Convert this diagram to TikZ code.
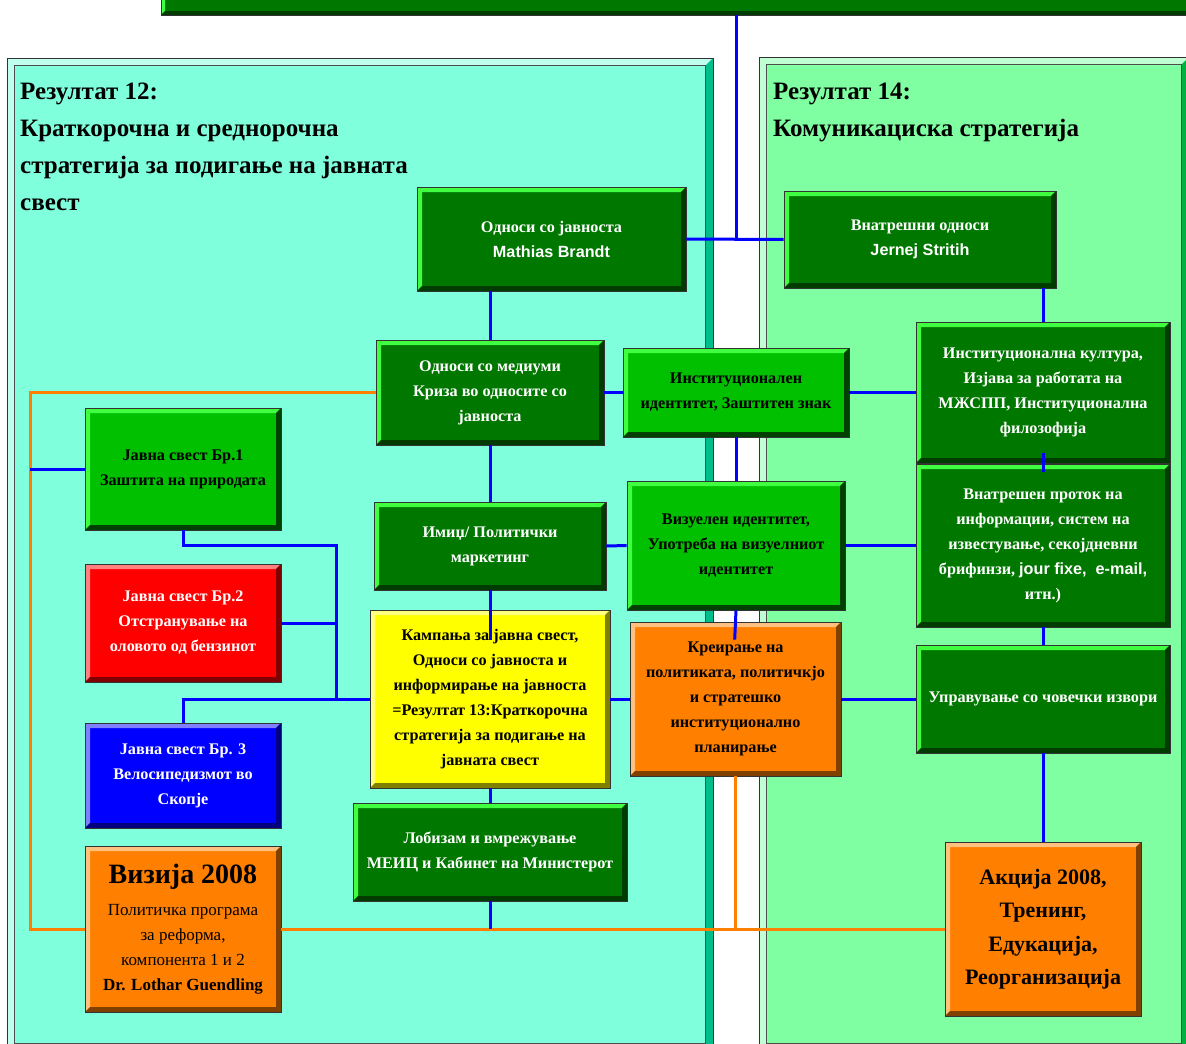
\documentclass[tikz,border=0pt]{standalone}
\usepackage{fontspec}
\setmainfont{Liberation Serif}
\newfontfamily\arialf{Liberation Sans}

\definecolor{dkgreen}{RGB}{0,120,0}
\definecolor{greenhi}{RGB}{64,255,64}
\definecolor{dkgreenlo}{RGB}{0,60,0}
\definecolor{mdgreen}{RGB}{0,192,0}
\definecolor{mdgreenlo}{RGB}{0,64,0}
\definecolor{boxred}{RGB}{255,0,0}
\definecolor{redhi}{RGB}{255,128,128}
\definecolor{redlo}{RGB}{128,0,0}
\definecolor{boxblue}{RGB}{0,0,255}
\definecolor{bluehi}{RGB}{128,128,255}
\definecolor{bluelo}{RGB}{0,0,128}
\definecolor{boxyellow}{RGB}{255,255,0}
\definecolor{yellowhi}{RGB}{255,255,128}
\definecolor{yellowlo}{RGB}{128,128,0}
\definecolor{boxorange}{RGB}{255,128,0}
\definecolor{orangehi}{RGB}{255,192,128}
\definecolor{orangelo}{RGB}{128,64,0}
\definecolor{aqua}{RGB}{128,255,220}
\definecolor{aquahi}{RGB}{190,255,238}
\definecolor{aqualo}{RGB}{0,190,140}
\definecolor{mint}{RGB}{128,255,162}
\definecolor{minthi}{RGB}{192,255,210}
\definecolor{mintlo}{RGB}{0,176,64}
\definecolor{linkblue}{RGB}{0,0,255}
\definecolor{linkorange}{RGB}{255,128,0}

\newcommand\boxfont{\fontsize{16.2}{25}\selectfont\bfseries}
\newcommand\titlefont{\fontsize{25}{37}\selectfont\bfseries}

\tikzset{
  bw/.store in=\bevw, bw=5pt,
  bevel/.style n args={3}{rectangle, inner sep=0pt, fill=#1, draw=black!80, line width=0.8pt,
    path picture={
      \coordinate (bvsw) at (path picture bounding box.south west);
      \coordinate (bvne) at (path picture bounding box.north east);
      \fill[#2] (bvsw) |- (bvne) -- ++(-\bevw,-\bevw) -| ([shift={(\bevw,\bevw)}]bvsw) -- cycle;
      \fill[#3] (bvsw) -| (bvne) -- ++(-\bevw,-\bevw) |- ([shift={(\bevw,\bevw)}]bvsw) -- cycle;
    }},
  dgbox/.style={bevel={dkgreen}{greenhi}{dkgreenlo}, text=white, align=center, font=\boxfont},
  mgbox/.style={bevel={mdgreen}{greenhi}{mdgreenlo}, text=black, align=center, font=\boxfont},
  redbox/.style={bevel={boxred}{redhi}{redlo}, text=white, align=center, font=\boxfont},
  bluebox/.style={bevel={boxblue}{bluehi}{bluelo}, text=white, align=center, font=\boxfont},
  yelbox/.style={bevel={boxyellow}{yellowhi}{yellowlo}, text=black, align=center, font=\boxfont},
  orbox/.style={bevel={boxorange}{orangehi}{orangelo}, text=black, align=center, font=\boxfont},
  link/.style={draw=linkblue, line width=3pt},
  olink/.style={draw=linkorange, line width=3pt},
}

\begin{document}
\begin{tikzpicture}[x=1pt,y=-1pt]
\useasboundingbox (0,0) rectangle (1186,1044);

% background panels
\node[bevel={dkgreen}{greenhi}{dkgreenlo}, bw=4pt, minimum width=1034pt, minimum height=40pt] (goal) at (678,-5) {};
\node[bevel={aqua}{aquahi}{aqualo}, bw=8pt, minimum width=706pt, minimum height=993pt] (left) at (360,554.5) {};
\node[bevel={mint}{minthi}{mintlo}, bw=8pt, minimum width=430pt, minimum height=994pt] (right) at (974,554) {};
\draw[black!70, line width=0.6pt] ([shift={(8pt,-8pt)}]left.north west) rectangle ([shift={(-8pt,8pt)}]left.south east);
\draw[black!70, line width=0.6pt] ([shift={(8pt,-8pt)}]right.north west) rectangle ([shift={(-8pt,8pt)}]right.south east);

\node[anchor=north west, align=left, font=\titlefont, inner sep=0pt] (res12) at (20,83)
  {Резултат 12:\\Краткорочна и среднорочна\\стратегија за подигање на јавната\\свест};
\node[anchor=north west, align=left, font=\titlefont, inner sep=0pt] (res14) at (773,83)
  {Резултат 14:\\Комуникациска стратегија};

% boxes
\node[dgbox, minimum width=269pt, minimum height=104pt] (pr) at (551.5,239) {Односи со јавноста\\{\arialf Mathias Brandt}};
\node[dgbox, minimum width=272pt, minimum height=97pt] (int) at (920,239.5) {Внатрешни односи\\{\arialf Jernej Stritih}};
\node[dgbox, minimum width=228pt, minimum height=105pt] (media) at (490,392.5) {Односи со медиуми\\Криза во односите со\\јавноста};
\node[mgbox, minimum width=226pt, minimum height=89pt] (instid) at (736,392.5) {Институционален\\идентитет, Заштитен знак};
\node[dgbox, minimum width=254pt, minimum height=141pt] (culture) at (1043,392.5) {Институционална култура,\\Изјава за работата на\\МЖСПП, Институционална\\филозофија};
\node[mgbox, minimum width=196pt, minimum height=122pt] (j1) at (183,469) {Јавна свест Бр.1\\Заштита на природата};
\node[dgbox, minimum width=232pt, minimum height=88pt] (image) at (490,546) {Имиџ/ Политички\\маркетинг};
\node[mgbox, minimum width=218pt, minimum height=129pt] (visual) at (736,545.5) {Визуелен идентитет,\\Употреба на визуелниот\\идентитет};
\node[dgbox, minimum width=254pt, minimum height=163pt] (flow) at (1043,545.5) {Внатрешен проток на\\информации, систем на\\известување, секојдневни\\брифинзи, {\arialf jour fixe,\ \ e-mail,}\\итн.)};
\node[redbox, minimum width=196pt, minimum height=118pt] (j2) at (183,623) {Јавна свест Бр.2\\Отстранување на\\оловото од бензинот};
\node[yelbox, minimum width=240pt, minimum height=178pt] (campaign) at (490,699) {Кампања за јавна свест,\\Односи со јавноста и\\информирање на јавноста\\=Резултат 13:Краткорочна\\стратегија за подигање на\\јавната свест};
\node[orbox, minimum width=211pt, minimum height=154pt] (policy) at (735.5,699) {Креирање на\\политиката, политичкјо\\и стратешко\\институционално\\планирање};
\node[dgbox, minimum width=254pt, minimum height=108pt] (hr) at (1043,699) {Управување со човечки извори};
\node[bluebox, minimum width=196pt, minimum height=105pt] (j3) at (183,775.5) {Јавна свест Бр. 3\\Велосипедизмот во\\Скопје};
\node[dgbox, minimum width=274pt, minimum height=98pt] (lobby) at (490,852) {Лобизам и вмрежување\\МЕИЦ и Кабинет на Министерот};
\node[orbox, minimum width=196pt, minimum height=166pt, font=\fontsize{17}{25}\selectfont] (vision) at (183,929)
  {{\fontsize{28}{30}\selectfont\bfseries Визија 2008}\\[7pt]Политичка програма\\за реформа,\\компонента 1 и 2\\{\bfseries Dr. Lothar Guendling}};
\node[orbox, minimum width=196pt, minimum height=174pt, font=\fontsize{22}{33.5}\selectfont\bfseries] (action) at (1043,929)
  {Акција 2008,\\Тренинг,\\Едукација,\\Реорганизација};

% bus points
\coordinate (jbus) at (336,545);
\coordinate (obus) at (30,392.5);

% orange links
\draw[olink] (media.west) -- (obus) |- (vision.west);
\draw[olink] (vision.east) -- (action.west);
\draw[olink] (policy.south) -- (policy.south |- action.west);

% blue links
\draw[link] (goal.south -| instid.north) -- (pr.east -| instid.north);
\draw[link] (pr.east) -- (int.west);
\draw[link] (media.north) -- (media.north |- pr.south);
\draw[link] (media.east) -- (instid.west);
\draw[link] (instid.east) -- (culture.west);
\draw[link] (culture.north) -- (culture.north |- int.south);
\draw[link] ([yshift=10pt]culture.south) -- ([yshift=-8pt]flow.north);
\draw[link] (instid.south) -- (visual.north);
\draw[link] (media.south) -- (image.north);
\draw[link] (image.east) -- (visual.west);
\draw[link] (visual.east) -- (flow.west);
\draw[link, shorten >=-30pt] (image.south) -- (campaign.north);
\draw[link, shorten >=-18pt] (visual.south) -- (policy.north);
\draw[link] (campaign.east) -- (policy.west);
\draw[link] (policy.east) -- (hr.west);
\draw[link] (flow.south) -- (hr.north);
\draw[link] (hr.south) -- (action.north);
\draw[link] (campaign.south) -- (lobby.north);
\draw[link] (lobby.south) -- (lobby.south |- vision.east);
\draw[link] (j1.south) |- (jbus) -- (jbus |- campaign.west);
\draw[link] (j2.east) -- (j2.east -| jbus);
\draw[link] (j3.north) |- (campaign.west);
\draw[link] (j1.west) -- (j1.west -| obus);
\end{tikzpicture}
\end{document}
